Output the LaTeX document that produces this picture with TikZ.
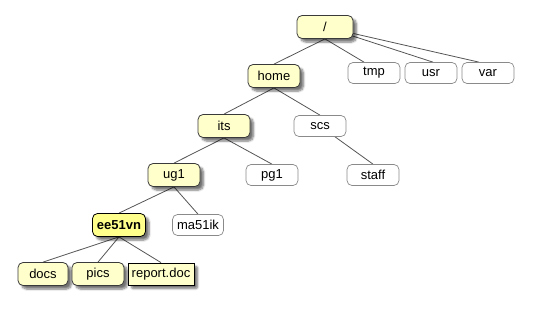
\documentclass[tikz,border=0pt]{standalone}
\usepackage{fontspec}
\setmainfont{Liberation Sans}
\usetikzlibrary{shadows.blur}
\definecolor{yfill}{HTML}{FFFFCC}
\definecolor{yfillb}{HTML}{FFFF8C}
\definecolor{ydraw}{HTML}{3A3A3A}
\definecolor{wdraw}{HTML}{8A8A8A}
\definecolor{edgec}{HTML}{555555}
\pgfdeclarelayer{bg}
\pgfsetlayers{bg,main}
\tikzset{
  base/.style={rounded corners=5pt, minimum height=23pt, minimum width=52pt,
    inner sep=1pt, font=\fontsize{13}{15}\selectfont},
  shad/.style={blur shadow={shadow xshift=3.5pt, shadow yshift=-3.5pt,
    shadow blur steps=6, shadow blur extra rounding=2pt, shadow opacity=55}},
  yel/.style={base, fill=yfill, draw=ydraw, line width=0.8pt, shad},
  selbox/.style={yel, fill=yfillb, draw=black, font=\fontsize{13}{15}\selectfont\bfseries},
  filebox/.style={base, rounded corners=0pt, fill=yfill, draw=black, line width=0.8pt,
    minimum width=66pt, minimum height=22pt, inner xsep=1pt, shad},
  wht/.style={base, fill=white, draw=wdraw, line width=0.7pt, minimum height=21pt},
  edge/.style={draw=edgec, line width=0.8pt}
}
\begin{document}
\begin{tikzpicture}[x=1pt,y=-1pt]
\useasboundingbox (0,0) rectangle (560,316);
\node[yel, minimum width=56pt] (root) at (325,27) {/};
\node[wht] (tmp) at (374,73) {tmp};
\node[wht] (usr) at (431,73) {usr};
\node[wht] (var) at (488,73) {var};
\node[yel] (home) at (274,76) {home};
\node[yel] (its) at (224,126) {its};
\node[wht] (scs) at (320,126) {scs};
\node[yel] (ug1) at (174,175) {ug1};
\node[wht] (pg1) at (272,175) {pg1};
\node[wht] (staff) at (373,175) {staff};
\node[selbox, minimum width=53pt] (ee) at (119,225) {ee51vn};
\node[wht, minimum width=51pt] (ma) at (198,225) {ma51ik};
\node[yel, minimum width=50pt] (docs) at (43,274) {docs};
\node[yel] (pics) at (98,274) {pics};
\node[filebox] (rep) at (161,274) {report.doc};
\begin{pgfonlayer}{bg}
\draw[edge] (root.south) -- (home.north);
\draw[edge] (root.south) -- ([xshift=-10pt]tmp.north);
\draw[edge] (root.center) -- ([xshift=2pt]usr.north);
\draw[edge] (root.center) -- ([xshift=-9pt]var.north);
\draw[edge] (home.south) -- (its.north);
\draw[edge] (home.south) -- (scs.north);
\draw[edge] (its.south) -- (ug1.north);
\draw[edge] (its.south) -- (pg1.north);
\draw[edge] (scs.center) -- (staff.north);
\draw[edge] (ug1.south) -- (ee.north);
\draw[edge] (ug1.south) -- (ma.north);
\draw[edge] (ee.south) -- (docs.north);
\draw[edge] (ee.south) -- (pics.north);
\draw[edge] (ee.south) -- (rep.north);
\end{pgfonlayer}
\end{tikzpicture}
\end{document}
